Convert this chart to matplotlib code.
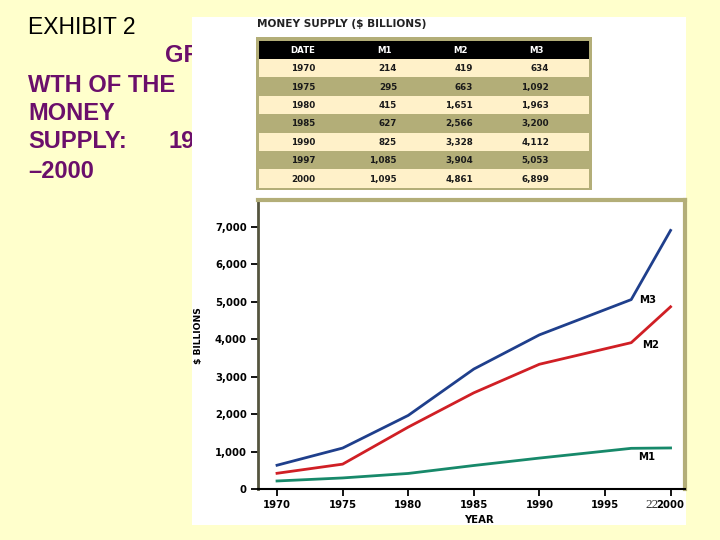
import matplotlib
matplotlib.use("Agg")
import matplotlib.pyplot as plt
from matplotlib.patches import Rectangle

# ---- data ----
dates = ["1970", "1975", "1980", "1985", "1990", "1997", "2000"]
years = [1970, 1975, 1980, 1985, 1990, 1997, 2000]
m1 = [214, 295, 415, 627, 825, 1085, 1095]
m2 = [419, 663, 1651, 2566, 3328, 3904, 4861]
m3 = [634, 1092, 1963, 3200, 4112, 5053, 6899]
col_headers = ["DATE", "M1", "M2", "M3"]
xticks = [1970, 1975, 1980, 1985, 1990, 1995, 2000]
yticks = [0, 1000, 2000, 3000, 4000, 5000, 6000, 7000]

SLIDE_BG = "#FFFFCC"
OLIVE = "#B3AE78"
CREAM = "#FFF1C9"
PURPLE = "#6B0F6B"
FONT = "Liberation Sans"
WIDE = "DejaVu Sans"

fig = plt.figure(figsize=(7.2, 5.4), dpi=100, facecolor=SLIDE_BG)

# background axes in pixel coordinates
bg = fig.add_axes([0, 0, 1, 1], zorder=0)
bg.set_xlim(0, 720)
bg.set_ylim(540, 0)
bg.axis("off")

# slide title (partly hidden by the picture)
bg.text(28, 28, "EXHIBIT 2", fontsize=16.5, family=FONT, color="black", va="center", ha="left", zorder=1)
title_lines = [(165, 56, "GROW"), (28, 85, "WTH OF THE"), (28, 114, "MONEY"),
               (28, 142, "SUPPLY:"), (169, 142, "1970"), (28, 171, "\u20132000")]
for x, y, s in title_lines:
    bg.text(x, y, s, fontsize=17, family=FONT, weight="bold", color=PURPLE,
            va="center", ha="left", zorder=1)

# white picture panel
bg.add_patch(Rectangle((192, 17), 494, 508, facecolor="white", edgecolor="none", zorder=2))

# table
bg.text(257, 24, "MONEY SUPPLY ($ BILLIONS)", fontsize=7.6, family=WIDE, weight="bold",
        color="#222222", va="center", ha="left", zorder=3)
bg.add_patch(Rectangle((256, 37), 336, 153, facecolor=OLIVE, edgecolor="none", zorder=3))
tx0, tw = 259, 330
bg.add_patch(Rectangle((tx0, 41), tw, 18, facecolor="black", edgecolor="none", zorder=4))
row_h = 18.4
col_x = [303, 397, 473, 549]
col_ha = ["center", "right", "right", "right"]
hdr_x = [303, 385, 461, 537]
for cx, h in zip(hdr_x, col_headers):
    bg.text(cx, 50.5, h, fontsize=6.2, family=WIDE, weight="bold", color="white",
            va="center", ha="center", zorder=5)
for i, d in enumerate(dates):
    top = 59 + i * row_h
    fc = CREAM if i % 2 == 0 else OLIVE
    bg.add_patch(Rectangle((tx0, top), tw, row_h, facecolor=fc, edgecolor="none", zorder=4))
    vals = [d, f"{m1[i]:,}", f"{m2[i]:,}", f"{m3[i]:,}"]
    for cx, ha, v in zip(col_x, col_ha, vals):
        bg.text(cx, top + row_h / 2 + 0.5, v, fontsize=6.3, family=WIDE, weight="bold",
                color="#1a1a1a", va="center", ha=ha, zorder=5)

# chart axes
ax = fig.add_axes([258 / 720, 1 - 489 / 540, (685 - 258) / 720, (489 - 200) / 540], zorder=1)
ax.set_facecolor("white")
ax.plot(years, m3, color="#1F3F8C", lw=2.0, solid_joinstyle="round")
ax.plot(years, m2, color="#D01F25", lw=2.0, solid_joinstyle="round")
ax.plot(years, m1, color="#17896A", lw=2.0, solid_joinstyle="round")
ax.set_xlim(1968.55, 2001.1)
ax.set_ylim(0, 7710)
ax.set_xticks(xticks)
ax.set_yticks(yticks)
ax.set_xticklabels([str(t) for t in xticks])
ax.set_yticklabels([f"{t:,}" for t in yticks])
for lab in ax.get_xticklabels() + ax.get_yticklabels():
    lab.set_fontfamily(WIDE)
    lab.set_fontweight("bold")
    lab.set_fontsize(7.3)
ax.tick_params(axis="both", direction="out", length=5, width=1.3, color="black", pad=3)
ax.spines["left"].set_color("#55553F")
ax.spines["left"].set_linewidth(2)
ax.spines["bottom"].set_color("black")
ax.spines["bottom"].set_linewidth(1.5)
for s in ("top", "right"):
    ax.spines[s].set_color(OLIVE)
    ax.spines[s].set_linewidth(3)

ax.text(1997.6, 5050, "M3", fontsize=7.3, family=WIDE, weight="bold", va="center", ha="left")
ax.text(1997.8, 3840, "M2", fontsize=7.3, family=WIDE, weight="bold", va="center", ha="left")
ax.text(1997.5, 850, "M1", fontsize=7.3, family=WIDE, weight="bold", va="center", ha="left")

fig.text(198 / 720, 1 - 336 / 540, "$ BILLIONS", rotation=90, fontsize=6.6, family=WIDE,
         weight="bold", va="center", ha="center")
fig.text(479 / 720, 1 - 520 / 540, "YEAR", fontsize=7.3, family=WIDE, weight="bold",
         va="center", ha="center")
# slide number overlapping the last tick label (as in the reference)
fig.text(645 / 720, 1 - 505 / 540, "22", fontsize=9.5, family="Liberation Serif",
         color="#333333", va="center", ha="left", zorder=5)

fig.savefig("out.png", dpi=100, facecolor=SLIDE_BG)
